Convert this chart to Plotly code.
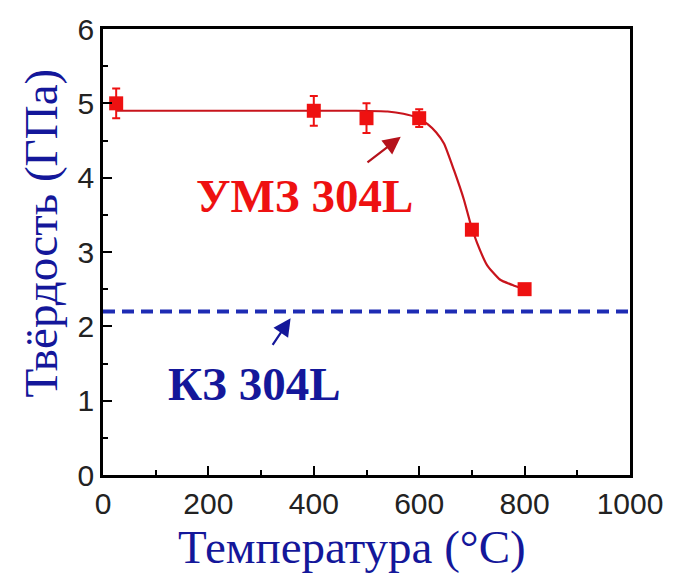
import plotly.graph_objects as go

# Measured hardness of UFG 304L after annealing
temp = [25, 400, 500, 600, 700, 800]
hardness = [5.0, 4.9, 4.8, 4.8, 3.3, 2.5]
hardness_err = [0.2, 0.2, 0.2, 0.12, 0.0, 0.0]

# Guide curve through the measured points
fit_temp = [25, 150, 275, 400, 480, 540, 570, 595, 616, 632, 647, 666, 685, 697, 710, 729, 753, 779, 800]
fit_hard = [4.9, 4.9, 4.9, 4.9, 4.9, 4.89, 4.86, 4.81, 4.72, 4.61, 4.46, 4.10, 3.70, 3.39, 3.12, 2.82, 2.63, 2.55, 2.5]

# Coarse-grained 304L reference level
cg_temp = [0, 1000]
cg_hard = [2.2, 2.2]

x_ticks = [0, 200, 400, 600, 800, 1000]
y_ticks = [0, 1, 2, 3, 4, 5, 6]

red = "#ee1111"
dark_red = "#b5121b"
blue = "#1e2cb4"
navy = "#14179a"

fig = go.Figure()

fig.add_trace(go.Scatter(
    x=cg_temp, y=cg_hard, mode="lines",
    line=dict(color=blue, width=4, dash="12px,7px"),
    showlegend=False, hoverinfo="skip",
))

fig.add_trace(go.Scatter(
    x=fit_temp, y=fit_hard, mode="lines",
    line=dict(color="#c8141c", width=2.2, shape="spline", smoothing=0.5),
    showlegend=False, hoverinfo="skip",
))

fig.add_trace(go.Scatter(
    x=temp, y=hardness, mode="markers",
    marker=dict(symbol="square", size=14, color=red),
    error_y=dict(type="data", array=hardness_err, color=red, thickness=2, width=4),
    showlegend=False, cliponaxis=False,
))

axis_common = dict(
    showgrid=False, zeroline=False,
    showline=True, linecolor="black", linewidth=2.5, mirror=True,
    ticks="inside", ticklen=9, tickwidth=2, tickcolor="black",
    tickfont=dict(family="Liberation Sans, Arial", size=30, color="#222222"),
)

fig.update_xaxes(
    range=[0, 1000], tickvals=x_ticks,
    minor=dict(ticks="inside", ticklen=5, tickwidth=2, tickcolor="black", dtick=100, tick0=0),
    **axis_common,
)
fig.update_yaxes(
    range=[0, 6], tickvals=y_ticks,
    minor=dict(ticks="inside", ticklen=5, tickwidth=2, tickcolor="black", dtick=0.5, tick0=0),
    **axis_common,
)

serif = "Liberation Serif, Times New Roman, serif"

plot_w = 675 - 103 - 38
plot_h = 578 - 24 - 103

annotations = [
    # series labels with arrows
    dict(x=382, y=3.76, xref="x", yref="y", text="<b>УМЗ 304L</b>", showarrow=False,
         font=dict(family=serif, size=47, color=red)),
    dict(x=565, y=4.55, ax=499, ay=4.19, xref="x", yref="y", axref="x", ayref="y",
         text="", showarrow=True, arrowhead=2, arrowsize=1.6, arrowwidth=2.2, arrowcolor=dark_red),
    dict(x=288, y=1.22, xref="x", yref="y", text="<b>КЗ 304L</b>", showarrow=False,
         font=dict(family=serif, size=47, color=navy)),
    dict(x=356, y=2.11, ax=320, ay=1.73, xref="x", yref="y", axref="x", ayref="y",
         text="", showarrow=True, arrowhead=2, arrowsize=1.6, arrowwidth=2.2, arrowcolor=navy),
    # axis titles
    dict(x=(355 - 103) / plot_w, y=-73 / plot_h, xref="paper", yref="paper", text="Температура (°C)",
         showarrow=False, font=dict(family=serif, size=47, color=navy),
         xanchor="center", yanchor="middle"),
    dict(x=-63 / plot_w, y=(475 - 230) / plot_h, xref="paper", yref="paper", text="Твёрдость (ГПа)",
         showarrow=False, textangle=-90, font=dict(family=serif, size=47, color=navy),
         xanchor="center", yanchor="middle"),
]

fig.update_layout(
    width=675, height=578,
    margin=dict(l=103, r=38, t=24, b=103),
    paper_bgcolor="white", plot_bgcolor="white",
    annotations=annotations,
)

fig.write_html("out.html")
